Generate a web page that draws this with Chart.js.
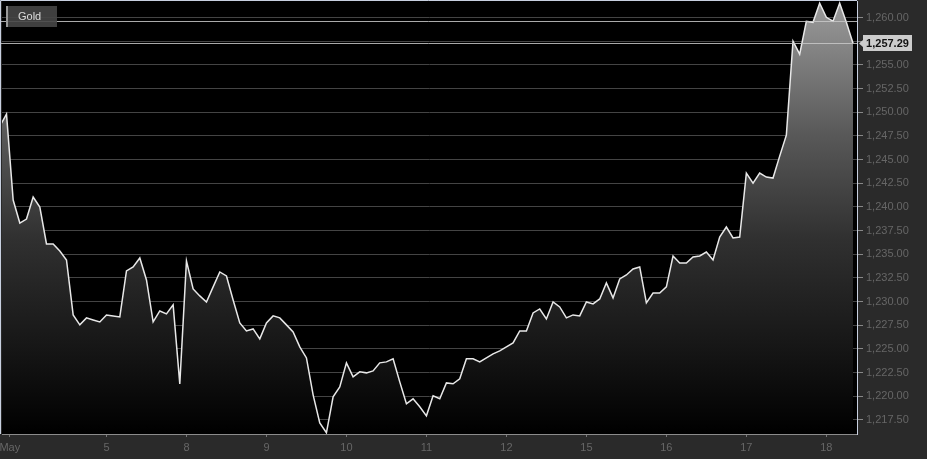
<!DOCTYPE html>
<html><head><meta charset="utf-8">
<script src="https://cdn.jsdelivr.net/npm/chart.js@4.4.1/dist/chart.umd.min.js"></script>
<style>html,body{margin:0;padding:0;background:#2a2a2a;overflow:hidden}#wrap{width:927px;height:459px}</style>
</head><body><div id="wrap"><canvas id="c" width="927" height="459"></canvas></div>
<script>
const seriesName = 'Gold';
const firstIndex = -1;
const goldPrices = [
  1248.53, 1249.80, 1240.72, 1238.29, 1238.71, 1241.04, 1239.98, 1236.08, 1236.08, 1235.34,
  1234.39, 1228.58, 1227.53, 1228.27, 1228.05, 1227.84, 1228.58, 1228.48, 1228.37, 1233.23,
  1233.65, 1234.60, 1232.28, 1227.84, 1229.00, 1228.69, 1229.64, 1221.30, 1234.28, 1231.33,
  1230.59, 1229.95, 1231.54, 1233.12, 1232.70, 1230.16, 1227.74, 1226.89, 1227.10, 1226.05,
  1227.74, 1228.48, 1228.27, 1227.53, 1226.79, 1225.20, 1224.04, 1220.14, 1217.18, 1216.13,
  1219.93, 1220.98, 1223.52, 1222.04, 1222.57, 1222.46, 1222.67, 1223.52, 1223.62, 1223.94,
  1221.51, 1219.19, 1219.72, 1218.87, 1217.92, 1220.03, 1219.72, 1221.40, 1221.30, 1221.83,
  1223.94, 1223.94, 1223.62, 1224.04, 1224.47, 1224.78, 1225.20, 1225.63, 1226.89, 1226.89,
  1228.79, 1229.21, 1228.16, 1229.95, 1229.43, 1228.27, 1228.58, 1228.48, 1229.95, 1229.74,
  1230.27, 1231.96, 1230.38, 1232.38, 1232.80, 1233.44, 1233.65, 1229.85, 1230.90, 1230.90,
  1231.54, 1234.81, 1234.07, 1234.07, 1234.70, 1234.81, 1235.23, 1234.39, 1236.81, 1237.87,
  1236.71, 1236.81, 1243.57, 1242.51, 1243.57, 1243.15, 1243.04, 1245.36, 1247.58, 1257.50,
  1256.13, 1259.61, 1259.50, 1261.51, 1260.03, 1259.61, 1261.51, 1259.50, 1257.29
];
const dayTickPositions = [0.5, 15, 27, 39, 51, 63, 75, 87, 99, 111, 123];
const dayTickLabels = ['May', '5', '8', '9', '10', '11', '12', '15', '16', '17', '18'];
const yTickValues = [1217.5, 1220, 1222.5, 1225, 1227.5, 1230, 1232.5, 1235, 1237.5, 1240, 1242.5, 1245, 1247.5, 1250, 1252.5, 1255, 1257.5, 1260];
const markerLevel = 1259.6;
const lastPrice = goldPrices[goldPrices.length - 1];

function fmt(v) {
  const s = v.toFixed(2);
  const [a, b] = s.split('.');
  return a.replace(/\B(?=(\d{3})+(?!\d))/g, ',') + '.' + b;
}

const points = goldPrices.map((v, i) => ({ x: firstIndex + i, y: v }));
const FONT = "'Liberation Sans', Arial, sans-serif";

const decor = {
  id: 'decor',
  beforeDraw(chart) {
    const { ctx, chartArea: a } = chart;
    ctx.save();
    ctx.fillStyle = '#2a2a2a';
    ctx.fillRect(0, 0, chart.width, chart.height);
    ctx.fillStyle = '#000';
    ctx.fillRect(a.left, a.top, a.right - a.left, a.bottom - a.top);
    ctx.restore();
  },
  afterDatasetsDraw(chart) {
    const { ctx, chartArea: a, scales } = chart;
    const y = scales.y;
    ctx.save();
    ctx.lineWidth = 1;
    ctx.strokeStyle = 'rgba(200,200,200,0.85)';
    [markerLevel, lastPrice].forEach(v => {
      const py = Math.round(y.getPixelForValue(v)) + 0.5;
      ctx.beginPath(); ctx.moveTo(0, py); ctx.lineTo(a.right, py); ctx.stroke();
    });
    ctx.strokeStyle = '#c8d0e0';
    ctx.beginPath(); ctx.moveTo(0.5, a.bottom); ctx.lineTo(0.5, 0.5); ctx.lineTo(a.right, 0.5); ctx.stroke();
    ctx.fillStyle = 'rgba(70,70,70,0.9)';
    ctx.fillRect(6, 6, 51, 21);
    ctx.fillStyle = '#9a9a9a';
    ctx.fillRect(6, 6, 2, 21);
    ctx.fillStyle = '#dcdcdc';
    ctx.font = '11px ' + FONT;
    ctx.textBaseline = 'middle';
    ctx.textAlign = 'left';
    ctx.fillText(seriesName, 18, 17);
    const py = Math.round(y.getPixelForValue(lastPrice));
    const bx = a.right + 6, bw = 49, bh = 16;
    ctx.fillStyle = '#cccccc';
    ctx.beginPath();
    ctx.moveTo(bx - 4, py + 0.5);
    ctx.lineTo(bx, py - 3);
    ctx.lineTo(bx, py - bh / 2);
    ctx.lineTo(bx + bw, py - bh / 2);
    ctx.lineTo(bx + bw, py + bh / 2);
    ctx.lineTo(bx, py + bh / 2);
    ctx.lineTo(bx, py + 4);
    ctx.closePath();
    ctx.fill();
    ctx.fillStyle = '#111';
    ctx.font = 'bold 11px ' + FONT;
    ctx.textAlign = 'center';
    ctx.fillText(fmt(lastPrice), bx + bw / 2, py + 1);
    ctx.restore();
  }
};

new Chart(document.getElementById('c'), {
  type: 'line',
  data: {
    datasets: [{
      label: seriesName,
      data: points,
      borderColor: '#e8e8e8',
      borderWidth: 1.5,
      pointRadius: 0,
      tension: 0,
      fill: 'start',
      backgroundColor(ctx) {
        const c = ctx.chart, a = c.chartArea;
        if (!a) return '#555';
        const g = c.ctx.createLinearGradient(0, a.top, 0, a.bottom);
        g.addColorStop(0, '#9c9c9c');
        g.addColorStop(0.3, '#5a5a5a');
        g.addColorStop(0.55, '#303030');
        g.addColorStop(0.8, '#161616');
        g.addColorStop(1, '#000000');
        return g;
      }
    }]
  },
  options: {
    responsive: false,
    animation: false,
    events: [],
    layout: { padding: { left: 2, top: 1, right: 0, bottom: 0 } },
    plugins: { legend: { display: false }, tooltip: { enabled: false } },
    scales: {
      x: {
        type: 'linear',
        min: -0.675,
        max: 127.6,
        afterBuildTicks(s) { s.ticks = dayTickPositions.map(v => ({ value: v })); },
        afterFit(s) { s.height = 25; s.paddingLeft = 0; s.paddingRight = 0; },
        ticks: {
          autoSkip: false,
          maxRotation: 0,
          padding: 4,
          color: '#666',
          font: { size: 11, family: FONT },
          callback(v) { const k = dayTickPositions.indexOf(v); return k >= 0 ? dayTickLabels[k] : ''; }
        },
        grid: { display: true, drawOnChartArea: false, tickLength: 3, color: '#777' },
        border: { display: true, color: '#8c8c8c', width: 1 }
      },
      y: {
        position: 'right',
        min: 1216.0,
        max: 1261.75,
        afterBuildTicks(s) { s.ticks = yTickValues.map(v => ({ value: v })); },
        afterFit(s) { s.width = 70; s.paddingTop = 0; s.paddingBottom = 0; },
        ticks: {
          padding: 3,
          color: '#666',
          font: { size: 11, family: FONT },
          crossAlign: 'near',
          callback(v) { return fmt(v); }
        },
        grid: { color: '#444', tickColor: '#888', tickLength: 6, lineWidth: 1 },
        border: { display: true, color: '#c8d0e0', width: 1 }
      }
    }
  },
  plugins: [decor]
});
</script>
</body></html>
